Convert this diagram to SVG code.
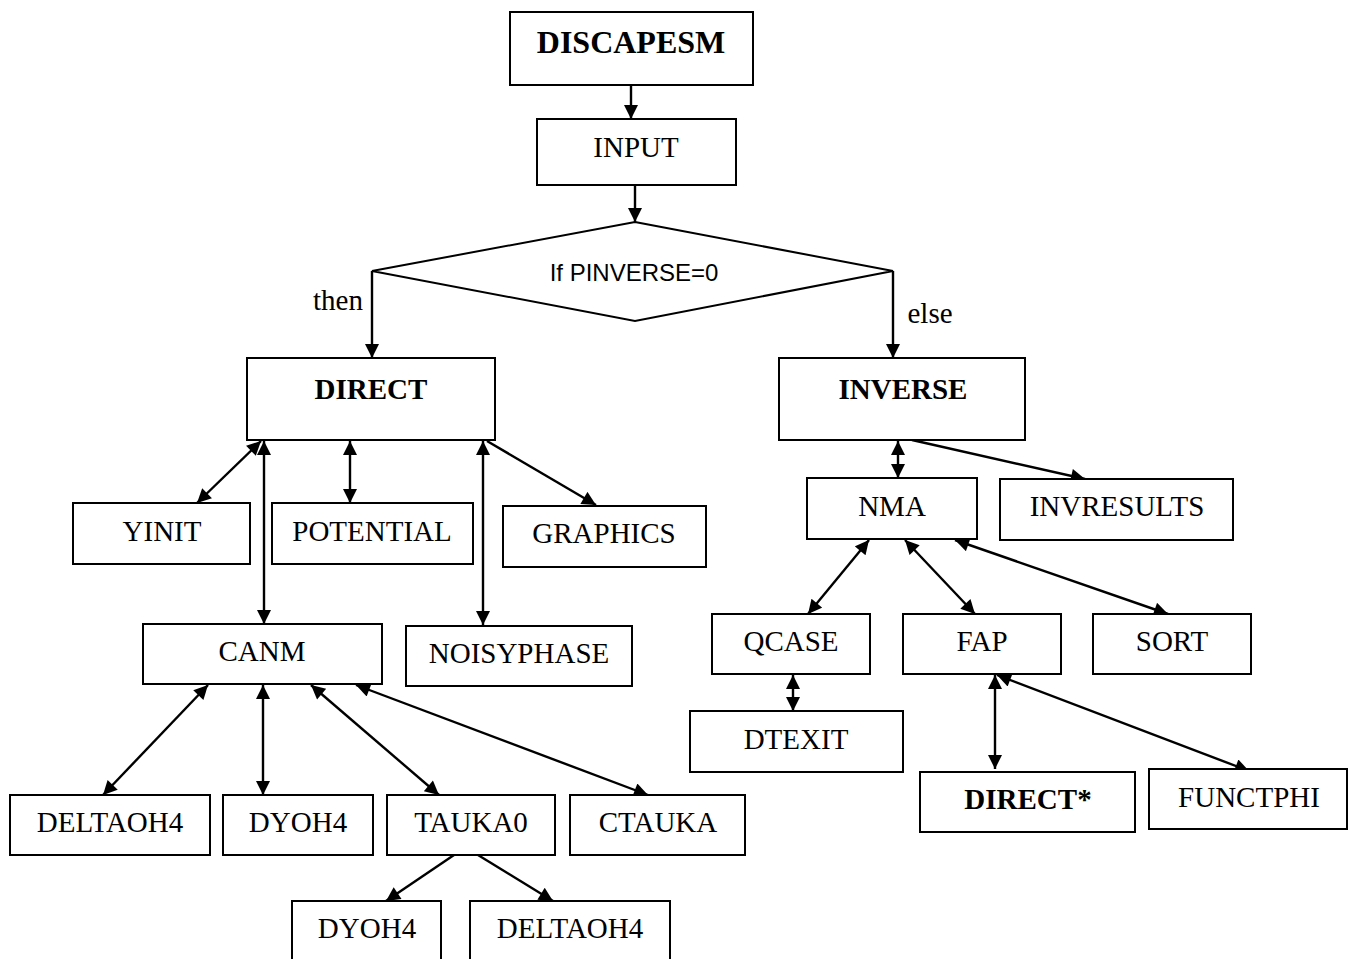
<svg xmlns="http://www.w3.org/2000/svg" width="1352" height="959" viewBox="0 0 1352 959">
<defs>
<marker id="ah" viewBox="0 0 10 10" refX="10" refY="5" markerWidth="16" markerHeight="14" markerUnits="userSpaceOnUse" orient="auto-start-reverse">
<path d="M0,0 L10,5 L0,10 z" fill="#000"/>
</marker>
<style>
rect.b{fill:#fff;stroke:#000;stroke-width:2}
.t{font-family:"Liberation Serif","Times New Roman",serif;font-size:29px;text-anchor:middle;fill:#000}
.bd{font-weight:bold}
.c line{stroke:#000;stroke-width:2.4;fill:none}
.one{marker-end:url(#ah)}
.two{marker-start:url(#ah);marker-end:url(#ah)}
</style>
</defs>
<rect width="1352" height="959" fill="#fff"/>
<g class="c" id="connectors">
<line class="one" x1="631" y1="85" x2="631" y2="119"/>
<line class="one" x1="635" y1="185" x2="635" y2="222"/>
<line class="one" x1="372" y1="271" x2="372" y2="358"/>
<line class="one" x1="893" y1="271" x2="893" y2="358"/>
<line class="two" x1="261" y1="441" x2="197" y2="503"/>
<line class="two" x1="264" y1="441" x2="264" y2="624"/>
<line class="two" x1="350" y1="441" x2="350" y2="503"/>
<line class="two" x1="483" y1="441" x2="483" y2="625"/>
<line class="one" x1="487" y1="441" x2="596" y2="505"/>
<line class="two" x1="208" y1="685" x2="103" y2="795"/>
<line class="two" x1="263" y1="685" x2="263" y2="795"/>
<line class="two" x1="311" y1="685" x2="439" y2="795"/>
<line class="two" x1="356" y1="685" x2="648" y2="795"/>
<line class="one" x1="454" y1="855" x2="386" y2="901"/>
<line class="one" x1="478" y1="855" x2="553" y2="901"/>
<line class="two" x1="898" y1="441" x2="898" y2="478"/>
<line class="one" x1="912" y1="440" x2="1085" y2="479"/>
<line class="two" x1="869" y1="540" x2="808" y2="614"/>
<line class="two" x1="905" y1="540" x2="975" y2="614"/>
<line class="two" x1="955" y1="540" x2="1168" y2="614"/>
<line class="two" x1="793" y1="675" x2="793" y2="711"/>
<line class="two" x1="995" y1="675" x2="995" y2="769"/>
<line class="two" x1="997" y1="675" x2="1249" y2="771"/>
</g>
<g id="discapesm"><rect class="b" x="510" y="12" width="243" height="73"/><text class="t bd" x="631" y="53" style="font-size:32px">DISCAPESM</text></g>
<g id="input"><rect class="b" x="537" y="119" width="199" height="66"/><text class="t" x="636" y="157">INPUT</text></g>
<g id="decision"><polygon points="635,222 893,271 635,321 372,271" fill="#fff" stroke="#000" stroke-width="2"/><text x="634" y="281" style="font-family:'Liberation Sans',Arial,sans-serif;font-size:24px;text-anchor:middle">If PINVERSE=0</text></g>
<g id="lbl-then"><text class="t" x="338" y="310">then</text></g>
<g id="lbl-else"><text class="t" x="930" y="323">else</text></g>
<g id="direct"><rect class="b" x="247" y="358" width="248" height="82"/><text class="t bd" x="371" y="399">DIRECT</text></g>
<g id="inverse"><rect class="b" x="779" y="358" width="246" height="82"/><text class="t bd" x="903" y="399">INVERSE</text></g>
<g id="yinit"><rect class="b" x="73" y="503" width="177" height="61"/><text class="t" x="162" y="541">YINIT</text></g>
<g id="potential"><rect class="b" x="272" y="503" width="201" height="61"/><text class="t" x="372" y="541">POTENTIAL</text></g>
<g id="graphics"><rect class="b" x="503" y="506" width="203" height="61"/><text class="t" x="604" y="543">GRAPHICS</text></g>
<g id="canm"><rect class="b" x="143" y="624" width="239" height="60"/><text class="t" x="262" y="661">CANM</text></g>
<g id="noisyphase"><rect class="b" x="406" y="626" width="226" height="60"/><text class="t" x="519" y="663">NOISYPHASE</text></g>
<g id="deltaoh4"><rect class="b" x="10" y="795" width="200" height="60"/><text class="t" x="110" y="832">DELTAOH4</text></g>
<g id="dyoh4"><rect class="b" x="223" y="795" width="150" height="60"/><text class="t" x="298" y="832">DYOH4</text></g>
<g id="tauka0"><rect class="b" x="387" y="795" width="168" height="60"/><text class="t" x="471" y="832">TAUKA0</text></g>
<g id="ctauka"><rect class="b" x="570" y="795" width="175" height="60"/><text class="t" x="658" y="832">CTAUKA</text></g>
<g id="dyoh4-2"><rect class="b" x="292" y="901" width="149" height="70"/><text class="t" x="367" y="938">DYOH4</text></g>
<g id="deltaoh4-2"><rect class="b" x="470" y="901" width="200" height="70"/><text class="t" x="570" y="938">DELTAOH4</text></g>
<g id="nma"><rect class="b" x="807" y="478" width="170" height="61"/><text class="t" x="892" y="516">NMA</text></g>
<g id="invresults"><rect class="b" x="1000" y="479" width="233" height="61"/><text class="t" x="1117" y="516">INVRESULTS</text></g>
<g id="qcase"><rect class="b" x="712" y="614" width="158" height="60"/><text class="t" x="791" y="651">QCASE</text></g>
<g id="fap"><rect class="b" x="903" y="614" width="158" height="60"/><text class="t" x="982" y="651">FAP</text></g>
<g id="sort"><rect class="b" x="1093" y="614" width="158" height="60"/><text class="t" x="1172" y="651">SORT</text></g>
<g id="dtexit"><rect class="b" x="690" y="711" width="213" height="61"/><text class="t" x="796" y="749">DTEXIT</text></g>
<g id="direct-star"><rect class="b" x="920" y="772" width="215" height="60"/><text class="t bd" x="1028" y="809">DIRECT*</text></g>
<g id="functphi"><rect class="b" x="1149" y="769" width="198" height="60"/><text class="t" x="1249" y="807">FUNCTPHI</text></g>
</svg>
